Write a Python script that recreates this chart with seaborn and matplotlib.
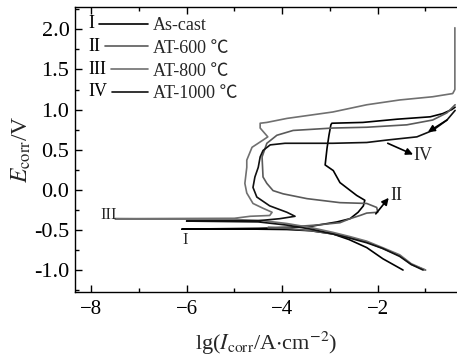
import matplotlib
matplotlib.use("Agg")
import matplotlib.pyplot as plt
from matplotlib.ticker import MultipleLocator
from matplotlib.legend_handler import HandlerLine2D
from matplotlib.lines import Line2D
from matplotlib.text import Text
import seaborn as sns
import pandas as pd

# ---------------- data (lg I, E) in scan order ----------------
as_cast_x = [-1.47, -1.89, -2.23, -2.60, -2.94, -3.40, -3.90, -4.60, -5.30, -6.10,
             -5.30, -4.50, -3.84, -3.35, -2.85, -2.58, -2.41, -2.30, -2.27, -2.44,
             -2.79, -2.93, -3.10, -3.06, -3.02, -2.98, -2.96, -2.31, -1.60, -0.90,
             -0.64, -0.45, -0.38]
as_cast_e = [-1.00, -0.86, -0.72, -0.62, -0.55, -0.51, -0.495, -0.49, -0.49, -0.49,
             -0.485, -0.48, -0.47, -0.45, -0.40, -0.36, -0.28, -0.20, -0.13, -0.07,
             0.09, 0.24, 0.31, 0.52, 0.68, 0.81, 0.83, 0.84, 0.88, 0.91,
             0.95, 1.00, 1.03]

at600_x = [-1.00, -1.30, -1.54, -1.90, -2.23, -2.60, -2.94, -3.40, -3.90, -4.30,
           -3.90, -3.30, -2.79, -2.58, -2.37, -2.23, -2.00, -2.02, -2.23, -2.79,
           -3.48, -3.98, -4.19, -4.32, -4.40, -4.42, -4.32, -4.11, -3.77, -2.94,
           -2.23, -1.39, -0.85, -0.55, -0.38]
at600_e = [-1.00, -0.93, -0.82, -0.73, -0.65, -0.59, -0.55, -0.51, -0.48, -0.47,
           -0.465, -0.44, -0.41, -0.36, -0.32, -0.29, -0.28, -0.22, -0.17, -0.16,
           -0.11, -0.05, -0.01, 0.08, 0.16, 0.41, 0.58, 0.68, 0.74, 0.77,
           0.78, 0.81, 0.87, 0.96, 1.06]

at800_x = [-1.00, -1.30, -1.54, -1.90, -2.23, -2.60, -2.94, -3.40, -3.90, -4.40,
           -5.00, -7.50, -5.00, -4.67, -4.26, -4.21, -4.40, -4.61, -4.74, -4.78,
           -4.74, -4.74, -4.63, -4.40, -4.30, -4.46, -4.46, -4.32, -3.90, -3.42,
           -2.94, -2.23, -1.54, -0.85, -0.43, -0.385, -0.385]
at800_e = [-1.00, -0.92, -0.81, -0.72, -0.64, -0.58, -0.53, -0.47, -0.42, -0.385,
           -0.37, -0.36, -0.355, -0.33, -0.32, -0.28, -0.23, -0.17, -0.04, 0.08,
           0.28, 0.37, 0.53, 0.62, 0.66, 0.77, 0.83, 0.84, 0.89, 0.93,
           0.97, 1.06, 1.12, 1.16, 1.20, 1.25, 2.02]

at1000_x = [-1.05, -1.30, -1.54, -1.90, -2.23, -2.60, -2.94, -3.40, -3.90, -4.50,
            -6.00, -4.50, -4.05, -3.73, -3.90, -4.26, -4.53, -4.61, -4.57, -4.50,
            -4.46, -4.40, -4.25, -3.94, -2.94, -2.23, -1.81, -1.18, -0.85, -0.55,
            -0.38]
at1000_e = [-1.00, -0.93, -0.83, -0.73, -0.66, -0.60, -0.55, -0.49, -0.44, -0.40,
            -0.39, -0.385, -0.36, -0.33, -0.28, -0.20, -0.09, 0.03, 0.16, 0.28,
            0.41, 0.49, 0.56, 0.58, 0.58, 0.59, 0.62, 0.66, 0.74, 0.87,
            0.99]

series_labels = ["As-cast", "AT-600 \u2103", "AT-800 \u2103", "AT-1000 \u2103"]
numerals = ["I", "II", "III", "IV"]
colors = ["#000000", "#5a5a5a", "#707070", "#111111"]

x_ticks = [-8, -6, -4, -2]
x_tick_labels = ["\u22128", "\u22126", "\u22124", "\u22122"]
y_ticks = [-1.0, -0.5, 0.0, 0.5, 1.0, 1.5, 2.0]
y_tick_labels = ["-1.0", "-0.5", "0.0", "0.5", "1.0", "1.5", "2.0"]

# ---------------- style ----------------
sns.set_theme(style="ticks")
FAM = ["Liberation Serif", "Noto Sans CJK SC", "DejaVu Sans"]
plt.rcParams["font.family"] = FAM
plt.rcParams["mathtext.fontset"] = "stix"
plt.rcParams["axes.linewidth"] = 1.0

fig = plt.figure(figsize=(4.57, 3.63), dpi=100)
ax = fig.add_axes([75 / 457, 1 - 291.7 / 363, 1 - 75 / 457 - 0.001, (291.7 - 7.3) / 363])

frames = []
for xs, es, lab in zip([as_cast_x, at600_x, at800_x, at1000_x],
                       [as_cast_e, at600_e, at800_e, at1000_e], series_labels):
    frames.append(pd.DataFrame({"lgI": xs, "E": es, "series": lab}))

handles = []
for df, c, lab in zip(frames, colors, series_labels):
    sns.lineplot(data=df, x="lgI", y="E", sort=False, estimator=None,
                 color=c, lw=1.2, ax=ax, label=lab)
    handles.append(ax.lines[-1])

ax.set_xlim(-8.335, -0.35)
ax.set_ylim(-1.27, 2.275)
ax.set_xticks(x_ticks)
ax.set_xticklabels(x_tick_labels, fontsize=15)
ax.set_yticks(y_ticks)
ax.set_yticklabels(y_tick_labels, fontsize=16)
ax.xaxis.set_minor_locator(MultipleLocator(1))
ax.yaxis.set_minor_locator(MultipleLocator(0.25))
ax.tick_params(which="both", direction="in", top=True, right=False, colors="black", width=1.0)
ax.tick_params(which="major", length=5)
ax.tick_params(which="minor", length=3)
ax.tick_params(axis="x", which="major", pad=6)
ax.tick_params(axis="y", which="major", pad=4)
ax.spines["right"].set_visible(False)
for s in ["left", "top", "bottom"]:
    ax.spines[s].set_color("black")

ax.set_xlabel(r"lg($I_{\rm corr}$/A$\cdot$cm$^{-2}$)", fontsize=16, labelpad=8)
ax.set_ylabel(r"$E_{\rm corr}$/V", fontsize=17, labelpad=1)


class NumeralHandler(HandlerLine2D):
    def __init__(self, numeral, width_em, **kw):
        super().__init__(**kw)
        self.numeral = numeral
        self.width_em = width_em

    def create_artists(self, legend, orig_handle, xdescent, ydescent, width, height,
                       fontsize, trans):
        yc = height / 2 - ydescent
        t = Text(-xdescent, yc, self.numeral, ha="left", va="center",
                 fontsize=fontsize, family=FAM, color="black")
        t.set_transform(trans)
        x0 = -xdescent + fontsize * (self.width_em + 0.3)
        ln = Line2D([x0, width - xdescent], [yc, yc], color=orig_handle.get_color(),
                    lw=orig_handle.get_linewidth())
        ln.set_transform(trans)
        return [t, ln]


num_widths = [0.333, 0.667, 1.0, 1.055]
hmap = {h: NumeralHandler(n, w) for h, n, w in zip(handles, numerals, num_widths)}
leg = ax.legend(handles=handles, labels=series_labels, handler_map=hmap,
                loc="upper left", bbox_to_anchor=(0.034, 0.966), borderaxespad=0,
                borderpad=0, frameon=False, handlelength=3.3,
                handletextpad=0.3, labelspacing=0.32,
                prop={"family": FAM, "size": 13})

# annotations
ax.text(-7.45, -0.31, "III", ha="right", va="center", fontsize=12, family=FAM)
ax.text(-6.03, -0.63, "I", ha="center", va="center", fontsize=12, family=FAM)
ax.text(-1.6, -0.07, "II", ha="center", va="center", fontsize=13, family=FAM)
ax.text(-1.05, 0.43, "IV", ha="center", va="center", fontsize=13, family=FAM)
arrow = dict(arrowstyle="-|>", color="black", lw=1.2, mutation_scale=10, shrinkA=0, shrinkB=0)
ax.annotate("", xy=(-1.77, -0.10), xytext=(-2.04, -0.30), arrowprops=arrow)
ax.annotate("", xy=(-1.26, 0.44), xytext=(-1.79, 0.58), arrowprops=arrow)
ax.annotate("", xy=(-0.95, 0.72), xytext=(-0.55, 0.87), arrowprops=arrow)

fig.savefig("out.png", dpi=100)
